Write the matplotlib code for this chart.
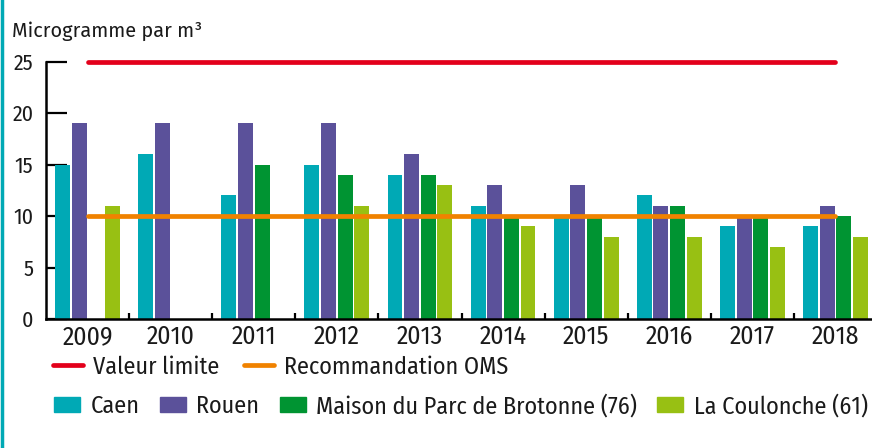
import matplotlib
matplotlib.use("Agg")
import matplotlib.pyplot as plt
import numpy as np
from matplotlib.lines import Line2D
from matplotlib.patches import Patch

plt.rcParams["font.family"] = ["Fira Sans Condensed", "DejaVu Sans"]

years = ["2009", "2010", "2011", "2012", "2013", "2014", "2015", "2016", "2017", "2018"]
caen = [15, 16, 12, 15, 14, 11, 10, 12, 9, 9]
rouen = [19, 19, 19, 19, 16, 13, 13, 11, 10, 11]
brotonne = [np.nan, np.nan, 15, 14, 14, 10, 10, 11, 10, 10]
coulonche = [11, np.nan, np.nan, 11, 13, 9, 8, 8, 7, 8]
valeur_limite = 25
recommandation_oms = 10

series = [
    ("Caen", caen, "#00a9b5"),
    ("Rouen", rouen, "#5b519a"),
    ("Maison du Parc de Brotonne (76)", brotonne, "#009432"),
    ("La Coulonche (61)", coulonche, "#98c013"),
]
TXT = "#1a1a1a"

fig = plt.figure(figsize=(8.72, 4.48), dpi=100)
ax = fig.add_axes([46 / 872, 1 - 319 / 448, 831 / 872, 257.5 / 448])

x = np.arange(len(years))
w = 0.18
offsets = [-0.3, -0.1, 0.1, 0.3]
for (name, vals, col), off in zip(series, offsets):
    ax.bar(x + off, vals, width=w, color=col, zorder=2)

# reference lines: EU limit value and WHO guideline
ax.hlines(valeur_limite, x[0], x[-1], color="#e3001b", lw=3.4, capstyle="round",
          zorder=3, clip_on=False)
ax.hlines(recommandation_oms, x[0], x[-1], color="#f08200", lw=3.4, capstyle="round",
          zorder=3)

ax.set_xlim(-0.5, len(years) - 0.5)
ax.set_ylim(0, 25)
ax.spines["top"].set_visible(False)
ax.spines["right"].set_visible(False)
ax.spines["left"].set_linewidth(1.8)
ax.spines["bottom"].set_linewidth(1.8)

ax.set_yticks([0, 5, 10, 15, 20, 25])
ax.tick_params(axis="y", direction="in", length=15, width=1.6, pad=9,
               labelsize=15.7, labelcolor=TXT)
ax.set_xticks(x)
ax.set_xticklabels(years)
ax.tick_params(axis="x", which="major", length=0, pad=4, labelsize=18.5, labelcolor=TXT)
ax.set_xticks(x[:-1] + 0.5, minor=True)
ax.tick_params(axis="x", which="minor", direction="in", length=4.5, width=1.6)

fig.text(12 / 872, 1 - 31 / 448, "Microgramme par m³", fontsize=14.4, color=TXT,
         va="center", ha="left", family=["Fira Sans", "DejaVu Sans"])

# teal bar on left edge
fig.add_artist(Line2D([1.5 / 872, 1.5 / 872], [0, 1], color="#00a9b5", lw=2.5,
                      transform=fig.transFigure))

line_handles = [
    Line2D([], [], color="#e3001b", lw=3.4, solid_capstyle="round"),
    Line2D([], [], color="#f08200", lw=3.4, solid_capstyle="round"),
]
fig.legend(line_handles, ["Valeur limite", "Recommandation OMS"],
           loc="center left", bbox_to_anchor=(53 / 872, 1 - 367 / 448),
           ncol=2, frameon=False, fontsize=17.4, borderpad=0, borderaxespad=0,
           handlelength=1.25, handletextpad=0.42, columnspacing=1.0,
           labelcolor=TXT)

patch_handles = [Patch(color=col) for _, _, col in series]
fig.legend(patch_handles, [s[0] for s in series],
           loc="center left", bbox_to_anchor=(54 / 872, 1 - 406 / 448),
           ncol=4, frameon=False, fontsize=17.4, borderpad=0, borderaxespad=0,
           handlelength=1.08, handleheight=0.55, handletextpad=0.42,
           columnspacing=0.85, labelcolor=TXT)

fig.savefig("out.png", dpi=100)
